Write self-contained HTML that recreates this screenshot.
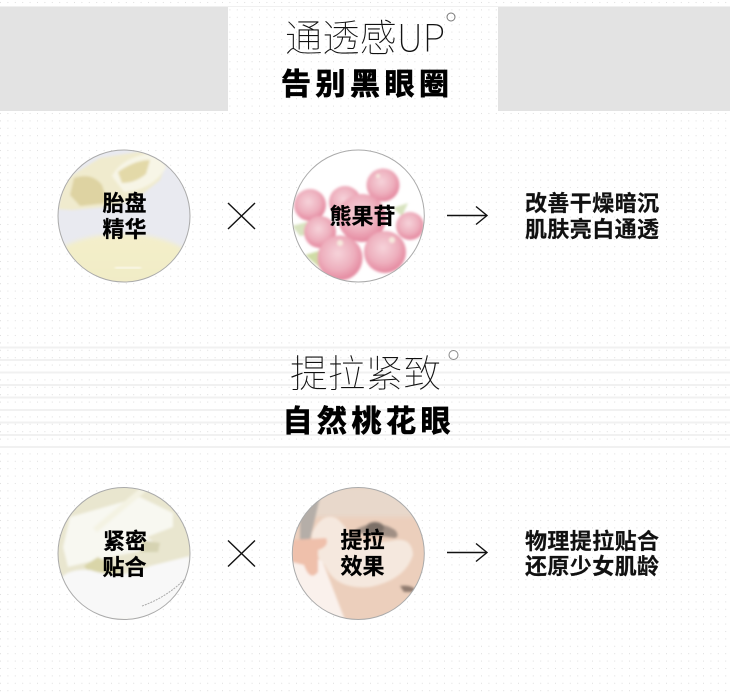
<!DOCTYPE html>
<html><head><meta charset="utf-8"><style>
html,body{margin:0;padding:0;background:#fff;width:730px;height:696px;overflow:hidden}
svg{display:block}
text{font-family:"Liberation Sans","Noto Sans CJK SC",sans-serif}
.t{font-size:38px;font-weight:100;fill:#111;font-family:"Noto Sans CJK SC","Liberation Sans",sans-serif}
.b{font-size:30px;font-weight:700;fill:#000;stroke:#000;stroke-width:.7px;font-family:"Noto Sans CJK SC",sans-serif}
.l{font-size:22px;font-weight:700;fill:#000;stroke:#000;stroke-width:.25px;font-family:"Noto Sans CJK SC",sans-serif;text-anchor:middle}
.r{font-size:22px;font-weight:700;fill:#111;stroke:#111;stroke-width:.2px;font-family:"Noto Sans CJK SC",sans-serif}
</style></head><body>
<svg width="730" height="696" viewBox="0 0 730 696" xmlns="http://www.w3.org/2000/svg">
<defs>
<pattern id="d" x="0" y="0" width="7.4" height="7.4" patternUnits="userSpaceOnUse"><rect x="0" y="2" width="1" height="1" fill="#dedede"/></pattern>
<radialGradient id="b" cx=".45" cy=".4" r=".65"><stop offset="0" stop-color="#f6d3da"/><stop offset=".55" stop-color="#eeb0be"/><stop offset="1" stop-color="#e27f98"/></radialGradient>
<linearGradient id="y1" x1="0" y1="0" x2="0" y2="1"><stop offset="0" stop-color="#f4efca"/><stop offset="1" stop-color="#efeac4"/></linearGradient>
<clipPath id="c1"><circle cx="124" cy="216" r="66"/></clipPath>
<clipPath id="c2"><circle cx="358.300" cy="216" r="66"/></clipPath>
<clipPath id="c3"><circle cx="124" cy="553.500" r="66"/></clipPath>
<clipPath id="c4"><circle cx="358.300" cy="553.500" r="66"/></clipPath>
<filter id="s" x="-20%" y="-20%" width="140%" height="140%"><feGaussianBlur stdDeviation="1.200"/></filter>
<filter id="s2" x="-20%" y="-20%" width="140%" height="140%"><feGaussianBlur stdDeviation="2.500"/></filter>
</defs>
<rect width="730" height="696" fill="#fff"/>
<rect y="6" width="730" height="1" fill="#f0f0f0"/>
<rect width="730" height="696" fill="url(#d)"/>
<g fill="#f1f1f1">
<rect y="346.500" width="730" height="2"/><rect y="359" width="730" height="2"/><rect y="371.500" width="730" height="2"/><rect y="384" width="730" height="2"/><rect y="396.500" width="730" height="2"/><rect y="409" width="730" height="2"/><rect y="421.500" width="730" height="2"/><rect y="434" width="730" height="2"/><rect y="446" width="730" height="2"/>
</g>
<rect x="0" y="7" width="228" height="104" fill="#e3e3e3"/>
<rect x="498" y="7" width="232" height="104" fill="#e3e3e3"/>

<text class="t" x="285" y="51.500" textLength="160" lengthAdjust="spacingAndGlyphs">通透感UP</text>
<circle cx="451" cy="17" r="4" fill="none" stroke="#777" stroke-width="1"/>
<text class="b" x="281" y="94.500" letter-spacing="4.500">告别黑眼圈</text>

<!-- circle 1 -->
<g clip-path="url(#c1)">
<rect x="58" y="150" width="132" height="132" fill="#e9eaf0"/>
<g filter="url(#s)">
<path d="M58 209 L64 180 L100 158 L150 150 L166 165 L160 180 L135 200 L105 207 L72 210Z" fill="#f0ebce"/>
<path d="M74 178 Q92 172 102 185 L108 203 L80 206 L70 195Z" fill="#ded3a2"/>
<path d="M112 176 Q122 156 158 152 L166 168 Q152 190 124 192Z" fill="#f7f5e6"/>
<path d="M118 172 Q135 160 150 160 L146 174 Q135 183 122 183Z" fill="#e3d9a8"/>
</g>
<g filter="url(#s2)">
<ellipse cx="122" cy="272" rx="78" ry="38" fill="url(#y1)"/>
</g>
<rect x="115" y="267" width="26" height="1.500" fill="#fff" filter="url(#s)"/>
</g>
<circle cx="124" cy="216" r="66" fill="none" stroke="#aaa" stroke-width="1"/>
<text class="l" x="124.500" y="211">胎盘</text>
<text class="l" x="124.500" y="237">精华</text>

<!-- circle 2 -->
<g clip-path="url(#c2)">
<rect x="292" y="150" width="133" height="132" fill="#fff"/>
<g filter="url(#s)">
<path d="M292 226 L322 218 L322 232 L300 236Z" fill="#d8e3bf"/>
<path d="M305 255 L322 250 L320 268Z" fill="#cfdca5"/>
<path d="M393 208 L408 203 L402 216Z" fill="#d8e3bf"/>
<circle cx="383" cy="185" r="16.500" fill="url(#b)"/>
<circle cx="310" cy="205" r="16" fill="url(#b)"/>
<circle cx="345" cy="202" r="16" fill="url(#b)"/>
<circle cx="320" cy="232" r="16" fill="url(#b)"/>
<circle cx="410" cy="226" r="14" fill="url(#b)"/>
<circle cx="362" cy="218" r="24" fill="url(#b)"/>
<circle cx="385" cy="252" r="21" fill="url(#b)"/>
<circle cx="340" cy="258" r="22.500" fill="url(#b)"/>
<circle cx="340" cy="243" r="3" fill="#f7eadf"/><circle cx="392" cy="240" r="3" fill="#f7eadf"/><circle cx="378" cy="176" r="2" fill="#f7eadf"/>
</g>
</g>
<circle cx="358.300" cy="216" r="66" fill="none" stroke="#aaa" stroke-width="1"/>
<text class="l" x="362.500" y="224">熊果苷</text>

<path d="M228 203 L255 229 M255 203 L228 229" stroke="#111" stroke-width="1.400" fill="none"/>
<path d="M447 215.500 H487 M476 206.500 L487 215.500 L476 224.500" stroke="#111" stroke-width="1.400" fill="none"/>
<text class="r" x="525" y="211" textLength="134">改善干燥暗沉</text>
<text class="r" x="525" y="237" textLength="134">肌肤亮白通透</text>

<text class="t" x="290" y="387" textLength="151" lengthAdjust="spacingAndGlyphs">提拉紧致</text>
<circle cx="453.500" cy="355" r="4.500" fill="none" stroke="#888" stroke-width="1"/>
<text class="b" x="282.500" y="431.500" letter-spacing="4.500">自然桃花眼</text>

<!-- circle 3 -->
<g clip-path="url(#c3)">
<rect x="58" y="487" width="132" height="132" fill="#e9e6cf"/>
<g filter="url(#s)">
<path d="M70 517 L140 497 L173 513 L173 527 L147 537 L160 547 L97 560 L68 567 L63 547Z" fill="#f8f8f1"/>
<path d="M145 488 L95 530" stroke="#f4f3e3" stroke-width="6"/>
<path d="M84 566 L98 557 L122 572 L96 580Z" fill="#d9d5a8"/>
<path d="M142 540 L160 543 L158 552 L140 552Z" fill="#d6d3b2"/>
<path d="M58 582 Q66 568 90 570 Q120 580 150 566 L190 556 L190 620 L58 620Z" fill="#f8f8f8"/>
</g>
<path d="M142 606 Q165 598 184 580" stroke="#aaa" stroke-width="1" fill="none" stroke-dasharray="2 1"/>
</g>
<circle cx="124" cy="553.500" r="66" fill="none" stroke="#aaa" stroke-width="1"/>
<text class="l" x="125" y="549">紧密</text>
<text class="l" x="124.500" y="575">贴合</text>

<!-- circle 4 -->
<g clip-path="url(#c4)">
<rect x="292" y="487" width="133" height="132" fill="#eccfbc"/>
<rect x="292" y="487" width="133" height="30" fill="#e8d8cb" filter="url(#s2)"/>
<g filter="url(#s)">
<path d="M300 505 L320 497 L310 540 L300 540Z" fill="#b5aea8"/>
<path d="M292 555 L322 560 L345 620 L292 620Z" fill="#faf1ec"/>
<path d="M355 530 Q375 518 395 530 Q400 536 395 538 L358 533Z" fill="#a08f84"/>
<ellipse cx="375" cy="528" rx="9" ry="6" fill="#7c6f68"/>
<path d="M312 533 Q322 512 336 518 Q346 525 350 538 Q372 545 396 540 Q412 538 413 555 Q405 580 370 587 Q335 590 325 565 Q310 550 312 533Z" fill="#f5e8de"/>
<path d="M292 540 L326 538 Q330 546 318 550 L318 572 Q310 582 304 565 L292 562Z" fill="#efc0ab"/>
<path d="M400 586 Q412 584 418 592 L404 592Z" fill="#8f7a6e"/>
</g>
</g>
<circle cx="358.300" cy="553.500" r="66" fill="none" stroke="#aaa" stroke-width="1"/>
<text class="l" x="362.500" y="548">提拉</text>
<text class="l" x="362.500" y="574">效果</text>

<path d="M228 540.500 L255 566.500 M255 540.500 L228 566.500" stroke="#111" stroke-width="1.400" fill="none"/>
<path d="M447 552.500 H487 M476 543.500 L487 552.500 L476 561.500" stroke="#111" stroke-width="1.400" fill="none"/>
<text class="r" x="525" y="549" textLength="134">物理提拉贴合</text>
<text class="r" x="525" y="574" textLength="134">还原少女肌龄</text>
</svg>
</body></html>
